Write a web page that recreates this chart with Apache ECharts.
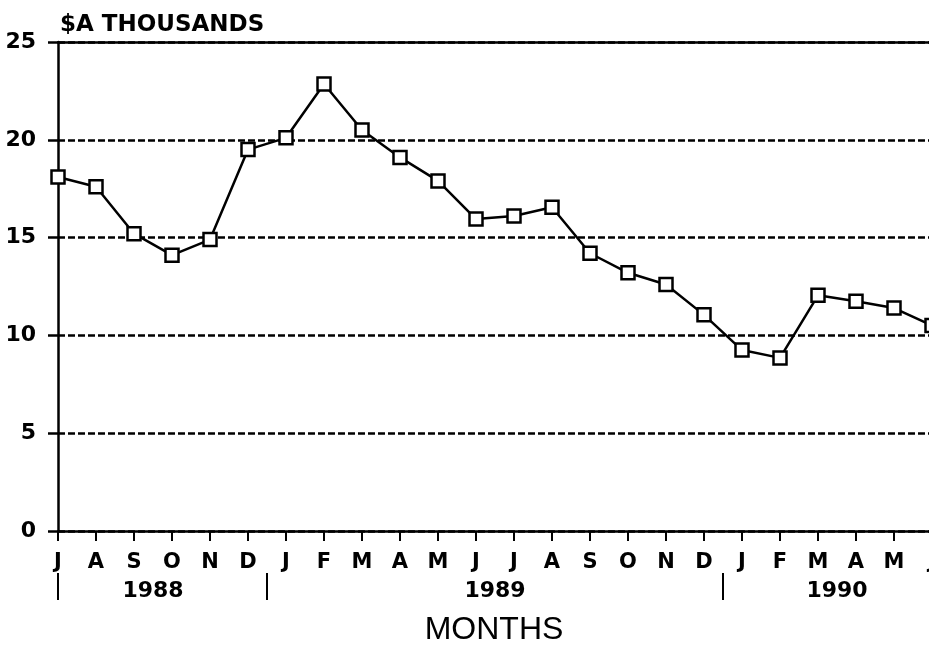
<!DOCTYPE html>
<html>
<head>
<meta charset="utf-8">
<script src="https://cdn.jsdelivr.net/npm/echarts@6/dist/echarts.min.js"></script>
<style>
  html, body { margin: 0; padding: 0; background: #fff; }
  #chart { width: 929px; height: 646px; }
</style>
</head>
<body>
<div id="chart"></div>
<script>
// months Jul 1988 .. Jun 1990
const months = ["J", "A", "S", "O", "N", "D",
  "J", "F", "M", "A", "M", "J", "J", "A", "S", "O", "N", "D",
  "J", "F", "M", "A", "M", "J"]
const values = [18.1, 17.6, 15.2, 14.1, 14.9, 19.5,
  20.1, 22.85, 20.5, 19.1, 17.9, 15.95, 16.1, 16.55, 14.2, 13.2, 12.6, 11.05,
  9.25, 8.85, 12.05, 11.75, 11.4, 10.5]
// year labels sit between month positions, separators before Jan
const yearNames = ["1988", "1989", "1990"]
const yearLabelPos = [2.5, 11.5, 20.5]
const yearBreakPos = [0, 5.5, 17.5]
const yTicks = [0, 5, 10, 15, 20, 25]

const boldFont = "'DejaVu Sans', sans-serif"
const plainFont = "'Liberation Sans', Arial, sans-serif"

const chart = echarts.init(document.getElementById("chart"))
chart.setOption({
  animation: false,
  backgroundColor: "#fff",
  title: {
    text: "$A THOUSANDS",
    left: 55,
    top: 9,
    textStyle: { fontFamily: boldFont, fontSize: 23, fontWeight: "bold", color: "#000" }
  },
  grid: { left: 58, right: -3, top: 42, bottom: 115, outerBoundsMode: "none", containLabel: false },
  xAxis: [
    {
      type: "value",
      min: 0,
      max: months.length - 1,
      interval: 1,
      position: "bottom",
      axisLine: { show: true, onZero: false, lineStyle: { color: "#000", width: 2.5 } },
      axisTick: { show: true, length: 10, lineStyle: { color: "#000", width: 2 } },
      axisLabel: {
        margin: 21,
        fontFamily: boldFont,
        fontSize: 21,
        fontWeight: "bold",
        color: "#000",
        showMaxLabel: true,
        hideOverlap: false,
        formatter: v => months[Math.round(v)] || ""
      },
      splitLine: { show: false }
    },
    {
      type: "value",
      min: 0,
      max: months.length - 1,
      position: "bottom",
      offset: 41,
      axisLine: { show: false },
      axisTick: { show: false },
      axisLabel: {
        margin: 8,
        fontFamily: boldFont,
        fontSize: 22,
        fontWeight: "bold",
        color: "#000",
        customValues: yearLabelPos,
        formatter: v => yearNames[yearLabelPos.indexOf(v)] || ""
      },
      splitLine: { show: false }
    },
    {
      type: "value",
      min: 0,
      max: months.length - 1,
      position: "top",
      axisLine: { show: true, lineStyle: { color: "#000", width: 2.5 } },
      axisTick: { show: false },
      axisLabel: { show: false },
      splitLine: { show: false }
    }
  ],
  yAxis: {
    type: "value",
    min: yTicks[0],
    max: yTicks[yTicks.length - 1],
    interval: 5,
    axisLine: { show: true, lineStyle: { color: "#000", width: 2.5 } },
    axisTick: { show: true, length: 10, lineStyle: { color: "#000", width: 2.5 } },
    axisLabel: {
      margin: 22,
      fontFamily: boldFont,
      fontSize: 22,
      fontWeight: "bold",
      color: "#000"
    },
    splitLine: {
      show: true,
      lineStyle: { color: "#000", width: 2.5, type: [7, 3] }
    }
  },
  series: [
    {
      type: "line",
      xAxisIndex: 0,
      data: values.map((v, i) => [i, v]),
      symbol: "rect",
      symbolSize: 13,
      clip: false,
      lineStyle: { color: "#000", width: 2.5 },
      itemStyle: { color: "#fff", borderColor: "#000", borderWidth: 2.5 },
      z: 5
    },
    {
      // year separator marks under the month labels
      type: "custom",
      xAxisIndex: 0,
      clip: false,
      silent: true,
      data: yearBreakPos.map(x => [x, 0]),
      renderItem: (params, api) => {
        const p = api.coord([api.value(0), 0])
        return {
          type: "line",
          shape: { x1: p[0], y1: p[1] + 42, x2: p[0], y2: p[1] + 69 },
          style: { stroke: "#000", lineWidth: 2 }
        }
      }
    }
  ],
  graphic: [
    {
      type: "text",
      x: 494,
      y: 614,
      style: { text: "MONTHS", font: "32px " + plainFont, fill: "#000", textAlign: "center" }
    }
  ]
})
</script>
</body>
</html>
